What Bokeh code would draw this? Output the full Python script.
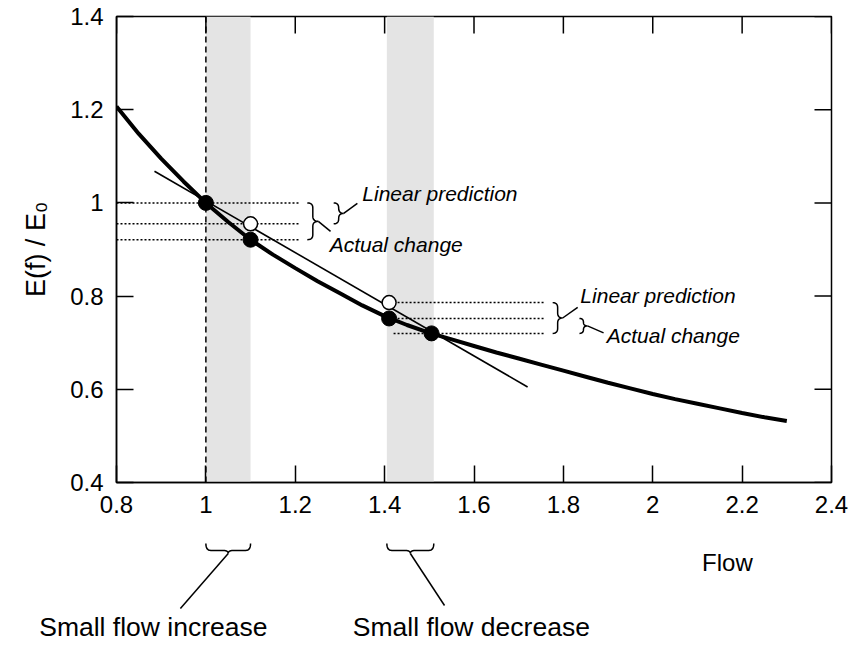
import numpy as np
from bokeh.plotting import figure
from bokeh.models import (Range1d, FixedTicker, NumeralTickFormatter, Span, Label,
                          LinearAxis, CustomJSTickFormatter)
from bokeh.layouts import column
from bokeh.embed import file_html
from bokeh.resources import INLINE
from bokeh.core.properties import value

# ---------------- data ----------------
flow = [0.80, 0.85, 0.90, 0.95, 1.00, 1.05, 1.10, 1.15, 1.20, 1.25, 1.30, 1.35,
        1.40, 1.45, 1.50, 1.55, 1.60, 1.65, 1.70, 1.75, 1.80, 1.85, 1.90, 1.95,
        2.00, 2.05, 2.10, 2.15, 2.20, 2.25, 2.30]
ratio = [1.207, 1.148, 1.095, 1.046, 1.000, 0.959, 0.921, 0.889, 0.860, 0.832, 0.806, 0.780,
         0.757, 0.738, 0.721, 0.707, 0.693, 0.679, 0.666, 0.653, 0.640, 0.627, 0.614, 0.602,
         0.590, 0.579, 0.569, 0.559, 0.549, 0.540, 0.532]

band_start = [1.0, 1.405]
band_end = [1.1, 1.51]

filled_x = [1.0, 1.1, 1.41, 1.505]
filled_y = [1.0, 0.921, 0.752, 0.720]
open_x = [1.1, 1.41]
open_y = [0.955, 0.786]

line_x = [0.885, 1.72]
line_y = [1.068, 0.605]

levels_increase = [1.0, 0.955, 0.921]
levels_decrease = [0.786, 0.752, 0.720]
levels_increase_x = [0.8, 1.21]
levels_decrease_x = [1.42, 1.758]

x_ticks = [0.8, 1.0, 1.2, 1.4, 1.6, 1.8, 2.0, 2.2, 2.4]
y_ticks = [0.4, 0.6, 0.8, 1.0, 1.2, 1.4]

FONT = "Liberation Sans"

# ---------------- layout constants ----------------
LEFT, RIGHT_PAD, TOP = 116, 20, 16
FRAME_W, FRAME_H = 715, 466
X0, X1, Y0, Y1 = 0.8, 2.4, 0.4, 1.4
sx = (X1 - X0) / FRAME_W
sy = (Y1 - Y0) / FRAME_H
TICK = 17

# ---------------- helpers ----------------
def qbez(p0, c, p1, n=8):
    t = np.linspace(0, 1, n)
    xs = (1 - t) ** 2 * p0[0] + 2 * (1 - t) * t * c[0] + t ** 2 * p1[0]
    ys = (1 - t) ** 2 * p0[1] + 2 * (1 - t) * t * c[1] + t ** 2 * p1[1]
    return list(xs), list(ys)

def vbrace(x0, ytop, ybot, depth, r):
    m = (ytop + ybot) / 2
    h = depth / 2
    r = min(r, abs(ytop - ybot) / 4)
    xs, ys = [], []
    for seg in [((x0, ytop), (x0 + h, ytop), (x0 + h, ytop - r)),
                ((x0 + h, m + r), (x0 + h, m), (x0 + depth, m)),
                ((x0 + depth, m), (x0 + h, m), (x0 + h, m - r)),
                ((x0 + h, ybot + r), (x0 + h, ybot), (x0, ybot))]:
        a, b = qbez(*seg)
        xs += a
        ys += b
    return xs, ys

def hbrace(xa, xb, top, h, d, r):
    mid = (xa + xb) / 2
    xs, ys = [], []
    for seg in [((xa, top), (xa, top + h), (xa + r, top + h)),
                ((mid - r, top + h), (mid, top + h), (mid, top + d)),
                ((mid, top + d), (mid, top + h), (mid + r, top + h)),
                ((xb - r, top + h), (xb, top + h), (xb, top))]:
        a, b = qbez(*seg)
        xs += a
        ys += b
    return xs, ys

# ---------------- main plot ----------------
xr = Range1d(X0, X1)
p = figure(width=851, height=525, x_range=xr, y_range=Range1d(Y0, Y1),
           output_backend="svg", toolbar_location=None,
           min_border_left=LEFT, min_border_right=RIGHT_PAD, min_border_top=TOP,
           min_border_bottom=43)
p.grid.visible = False
p.background_fill_color = "white"
p.border_fill_color = "white"
p.outline_line_color = "black"
p.outline_line_width = 1.5

for ax in (p.xaxis[0], p.yaxis[0]):
    ax.major_tick_in = TICK
    ax.major_tick_out = 0
    ax.minor_tick_line_color = None
    ax.axis_line_width = 1.5
    ax.axis_line_color = "black"
    ax.major_tick_line_width = 1.5
    ax.major_tick_line_color = "black"
    ax.major_label_text_font = FONT
    ax.major_label_text_font_size = "24px"
    ax.major_label_text_color = "black"
    ax.major_label_standoff = 13
    ax.formatter = NumeralTickFormatter(format="0.[0]")
p.xaxis[0].ticker = FixedTicker(ticks=x_ticks)
p.yaxis[0].ticker = FixedTicker(ticks=y_ticks)
p.yaxis[0].axis_label = "E(f) / E₀"
p.yaxis[0].axis_label_text_font = FONT
p.yaxis[0].axis_label_text_font_size = "27px"
p.yaxis[0].axis_label_text_font_style = "normal"
p.yaxis[0].axis_label_text_color = "black"
p.yaxis[0].axis_label_standoff = 16

# inward ticks on the top and right edges (drawn as short segments)
p.segment(x0=x_ticks, x1=x_ticks, y0=[Y1] * len(x_ticks), y1=[Y1 - TICK * sy] * len(x_ticks),
          line_color="black", line_width=1.5)
p.segment(x0=[X1] * len(y_ticks), x1=[X1 - TICK * sx] * len(y_ticks), y0=y_ticks, y1=y_ticks,
          line_color="black", line_width=1.5)

# shaded bands
p.vbar(x=[(a + b) / 2 for a, b in zip(band_start, band_end)],
       width=[b - a for a, b in zip(band_start, band_end)],
       top=Y1, bottom=Y0, fill_color="#e4e4e4", line_color=None, level="underlay")

# dashed vertical at baseline flow
p.add_layout(Span(location=1.0, dimension="height", line_color="black",
                  line_width=1.5, line_dash="6 4"))

# dotted reference levels
p.multi_line(xs=[levels_increase_x] * 3, ys=[[v, v] for v in levels_increase],
             line_color="black", line_width=1.5, line_dash="2 2")
p.multi_line(xs=[levels_decrease_x] * 3, ys=[[v, v] for v in levels_decrease],
             line_color="black", line_width=1.5, line_dash="2 2")

# linear prediction line
p.line(line_x, line_y, line_color="black", line_width=1.6)

# curve
p.line(flow, ratio, line_color="black", line_width=4)

# points
p.scatter(open_x, open_y, size=14, marker="circle", fill_color="white",
          line_color="black", line_width=1.5)
p.scatter(filled_x, filled_y, size=15, marker="circle", fill_color="black", line_color="black")

# braces and connectors (main plot)
braces = [
    (1.227, levels_increase[0], levels_increase[2], 11 * sx),
    (1.286, levels_increase[0], levels_increase[1], 10 * sx),
    (1.776, levels_decrease[0], levels_decrease[2], 10 * sx),
    (1.836, levels_decrease[1], levels_decrease[2], 8 * sx),
]
bx, by = [], []
for x0, yt, yb, d in braces:
    a, b = vbrace(x0, yt, yb, d, 5 * sy)
    bx.append(a)
    by.append(b)
conn_end = [(1.279, 0.939), (1.339, 0.999), (1.832, 0.776), (1.890, 0.721)]
for (x0, yt, yb, d), (ex, ey) in zip(braces, conn_end):
    bx.append([x0 + d, ex])
    by.append([(yt + yb) / 2, ey])
p.multi_line(xs=bx, ys=by, line_color="black", line_width=1.5)

lab_x = [1.350, 1.277, 1.838, 1.897]
lab_y = [1.020, 0.911, 0.801, 0.715]
lab_t = ["Linear prediction", "Actual change", "Linear prediction", "Actual change"]
p.text(x=lab_x, y=lab_y, text=lab_t, text_font=value(FONT), text_font_style="italic",
       text_font_size="21px", text_baseline="middle", text_align="left", text_color="black")

# ---------------- bottom annotation strip (shares the x scale) ----------------
q = figure(width=851, height=120, x_range=xr, y_range=Range1d(120, 0),
           output_backend="svg", toolbar_location=None,
           x_axis_location=None, y_axis_location=None,
           min_border_left=LEFT, min_border_right=RIGHT_PAD, min_border_top=0, min_border_bottom=0)
q.grid.visible = False
q.outline_line_color = None
q.background_fill_color = "white"
q.border_fill_color = "white"

hx, hy = [], []
for a, b in zip(band_start, band_end):
    xs_, ys_ = hbrace(a, b, 18, 7, 10, 5 * sx)
    hx.append(xs_)
    hy.append(ys_)
lead_end = [(0.943, 83), (1.534, 80)]
for a, b, (ex, ey) in zip(band_start, band_end, lead_end):
    hx.append([(a + b) / 2, ex])
    hy.append([28, ey])
q.multi_line(xs=hx, ys=hy, line_color="black", line_width=1.5)

# "Small flow increase" reaches left of the frame: draw it as the (unclipped) label of a
# bare left axis, shifted right with a negative standoff so it sits under its leader line.
inc_axis = LinearAxis(ticker=FixedTicker(ticks=[101]),
                      formatter=CustomJSTickFormatter(code="return 'Small flow increase';"),
                      axis_line_color=None, major_tick_line_color=None,
                      minor_tick_line_color=None, major_tick_out=0, major_tick_in=0,
                      major_label_standoff=-151, major_label_text_font=FONT,
                      major_label_text_font_size="26.5px", major_label_text_color="black")
q.add_layout(inc_axis, "left")

for tx, ty, tt, fs in [(1.594, 101, "Small flow decrease", "26.5px"),
                       (2.167, 37, "Flow", "24px")]:
    q.add_layout(Label(x=tx, y=ty, text=tt, text_font=FONT, text_font_size=fs,
                       text_align="center", text_baseline="middle", text_color="black"))

layout = column(p, q, spacing=0)
open("out.html", "w").write(file_html(layout, INLINE))
